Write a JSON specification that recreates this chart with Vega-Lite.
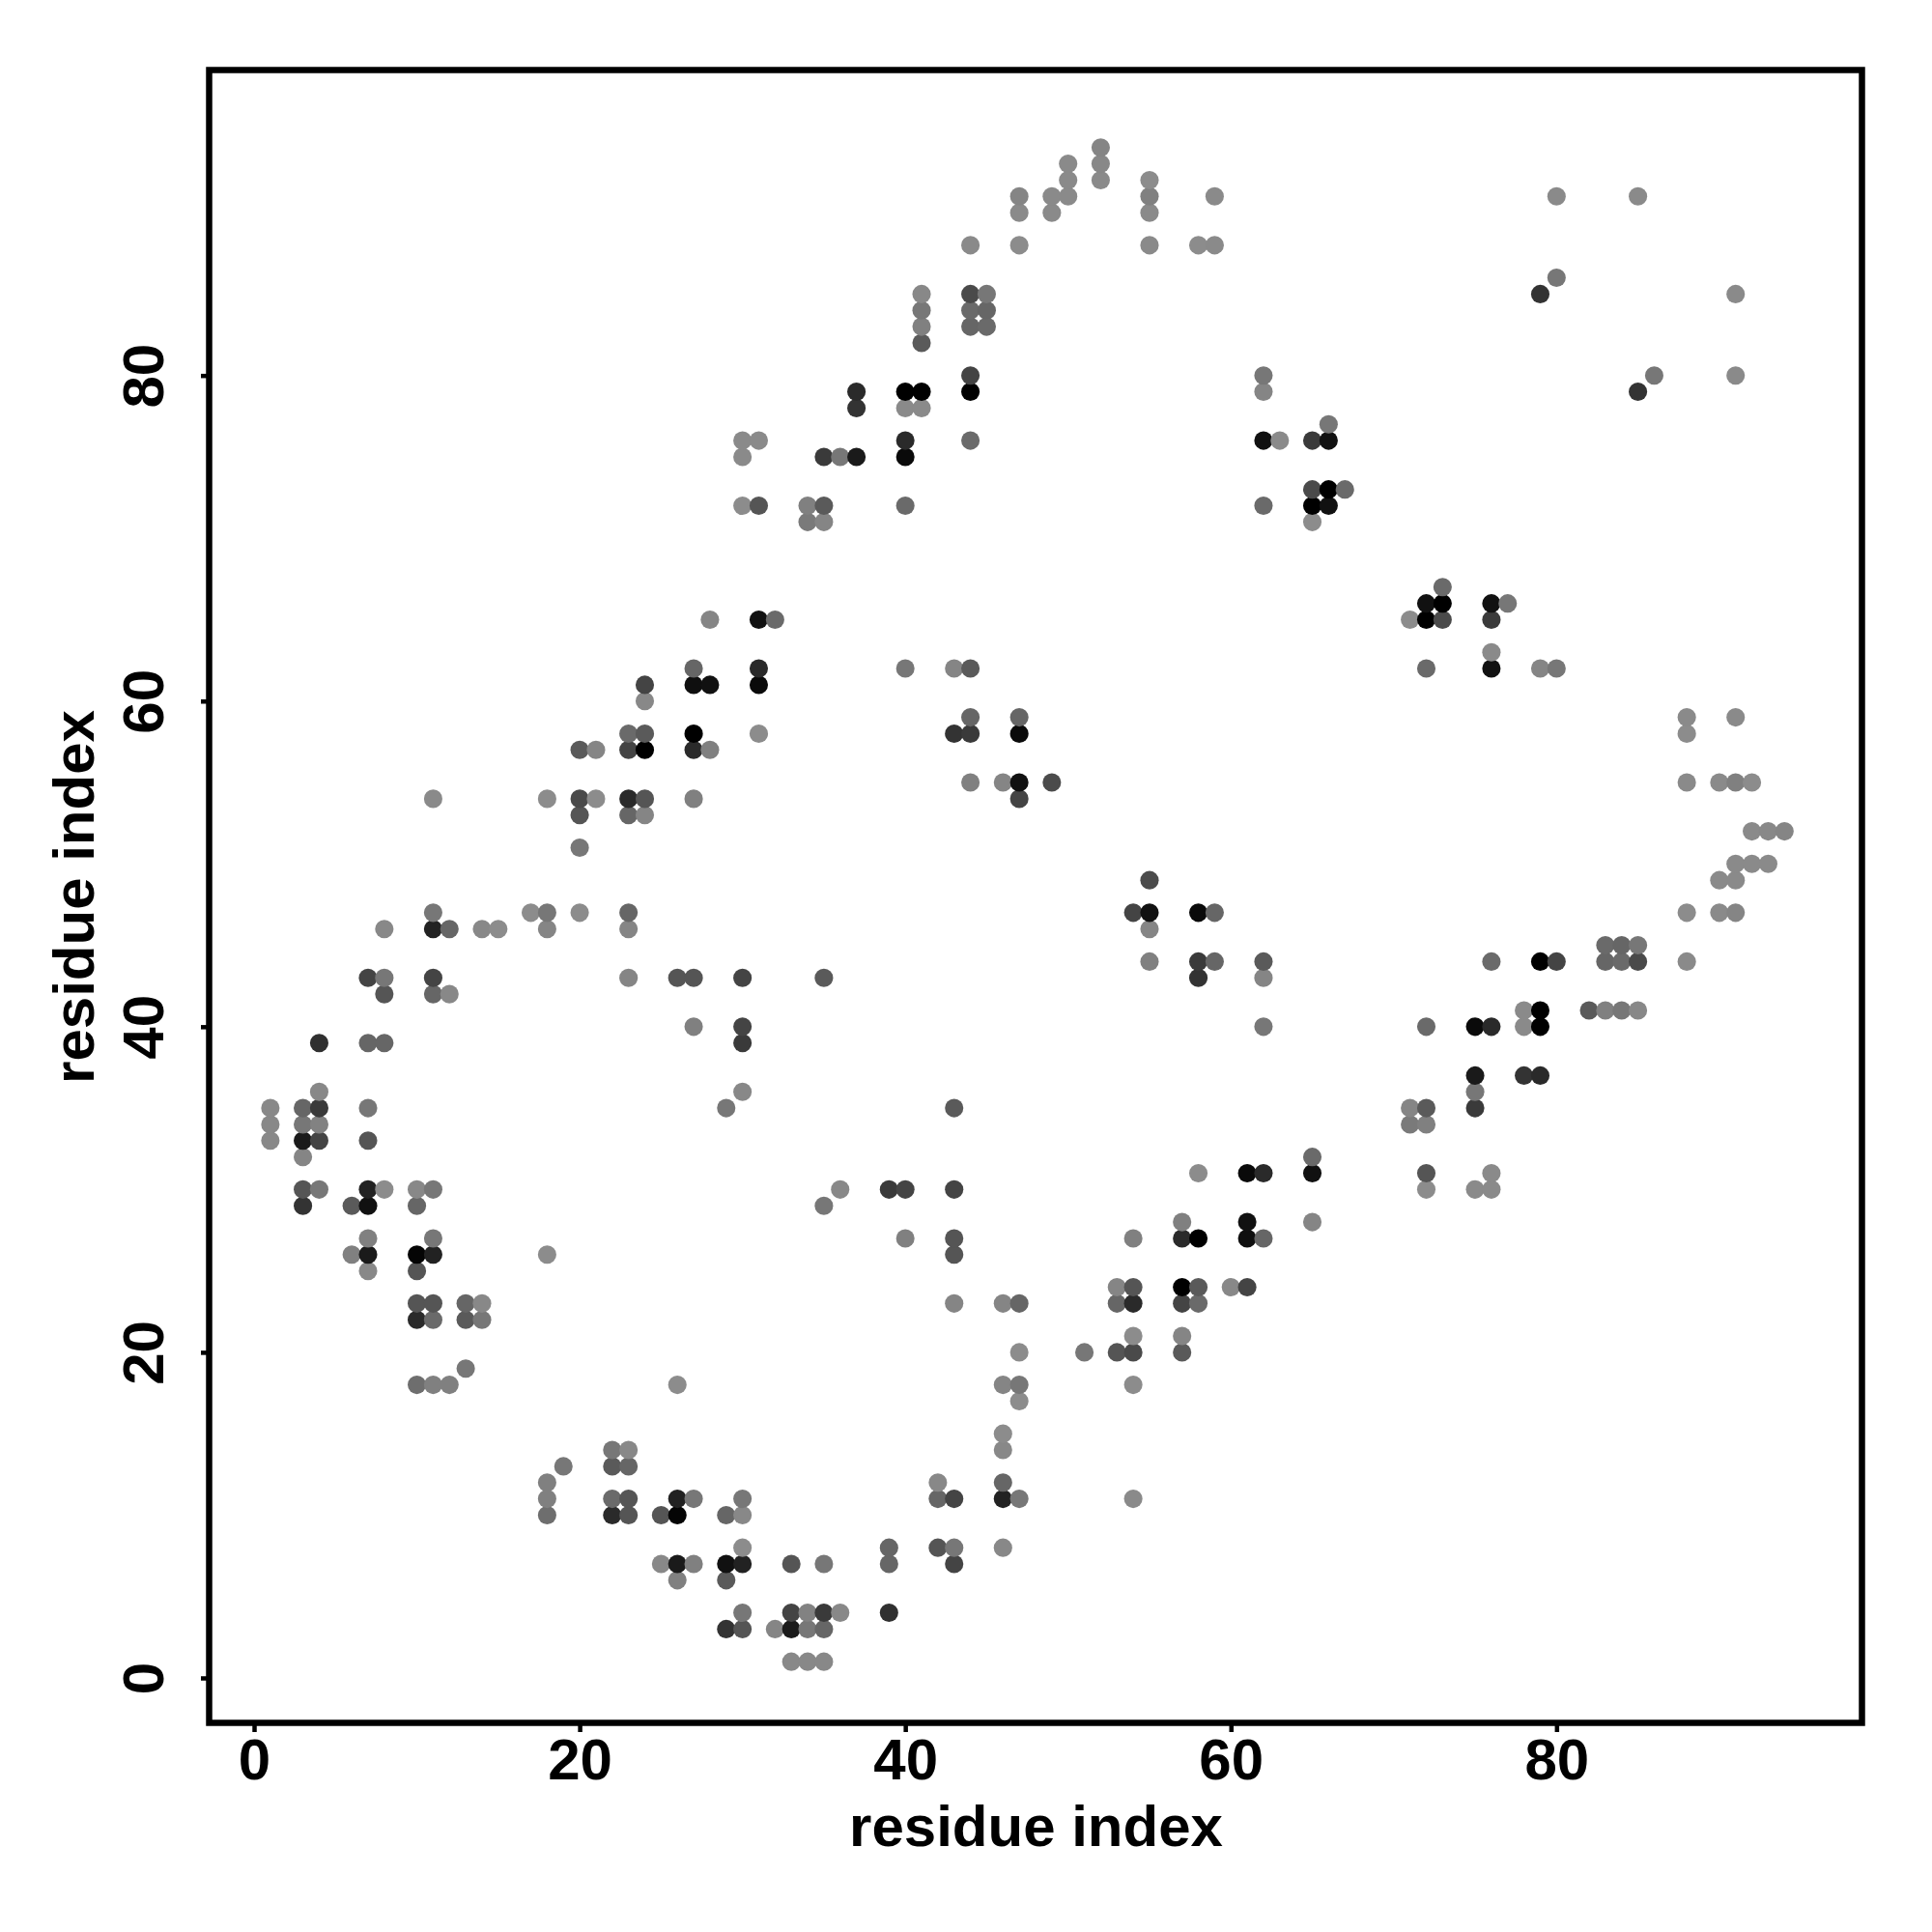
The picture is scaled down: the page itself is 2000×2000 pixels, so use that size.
{"$schema":"https://vega.github.io/schema/vega-lite/v6.json","autosize":{"type":"none"},"padding":{"left":216.5,"top":72.5,"right":72.5,"bottom":216.5},"width":1711,"height":1711,"background":"white","config":{"view":{"stroke":"#000","strokeWidth":6.5,"fill":"white"}},"view":{"stroke":"#000","strokeWidth":6.5,"fill":"white"},"data":{"values":[
{"x":1,"y":33,"g":136},{"x":1,"y":34,"g":136},{"x":1,"y":35,"g":136},
{"x":3,"y":29,"g":51},{"x":3,"y":30,"g":85},{"x":3,"y":32,"g":133},{"x":3,"y":33,"g":26},{"x":3,"y":34,"g":119},{"x":3,"y":35,"g":102},
{"x":4,"y":30,"g":119},{"x":4,"y":33,"g":68},{"x":4,"y":34,"g":130},{"x":4,"y":35,"g":58},{"x":4,"y":36,"g":136},{"x":4,"y":39,"g":48},
{"x":6,"y":26,"g":128},{"x":6,"y":29,"g":90},
{"x":7,"y":25,"g":136},{"x":7,"y":26,"g":26},{"x":7,"y":27,"g":128},{"x":7,"y":29,"g":17},{"x":7,"y":30,"g":34},{"x":7,"y":33,"g":85},{"x":7,"y":35,"g":119},{"x":7,"y":39,"g":102},{"x":7,"y":43,"g":68},
{"x":8,"y":30,"g":140},{"x":8,"y":39,"g":102},{"x":8,"y":42,"g":85},{"x":8,"y":43,"g":119},{"x":8,"y":46,"g":136},
{"x":10,"y":18,"g":110},{"x":10,"y":22,"g":42},{"x":10,"y":23,"g":85},{"x":10,"y":25,"g":85},{"x":10,"y":26,"g":5},{"x":10,"y":29,"g":102},{"x":10,"y":30,"g":136},
{"x":11,"y":18,"g":128},{"x":11,"y":22,"g":106},{"x":11,"y":23,"g":85},{"x":11,"y":26,"g":34},{"x":11,"y":27,"g":119},{"x":11,"y":30,"g":119},{"x":11,"y":42,"g":102},{"x":11,"y":43,"g":68},{"x":11,"y":46,"g":34},{"x":11,"y":47,"g":119},{"x":11,"y":54,"g":138},
{"x":12,"y":18,"g":128},{"x":12,"y":42,"g":136},{"x":12,"y":46,"g":102},
{"x":13,"y":19,"g":119},{"x":13,"y":22,"g":90},{"x":13,"y":23,"g":102},
{"x":14,"y":22,"g":119},{"x":14,"y":23,"g":136},{"x":14,"y":46,"g":136},
{"x":15,"y":46,"g":140},{"x":17,"y":47,"g":140},
{"x":18,"y":26,"g":140},{"x":18,"y":46,"g":133},{"x":18,"y":47,"g":119},{"x":18,"y":54,"g":140},
{"x":20,"y":47,"g":140},{"x":20,"y":51,"g":119},{"x":20,"y":53,"g":85},{"x":20,"y":54,"g":74},{"x":20,"y":57,"g":90},
{"x":21,"y":54,"g":140},{"x":21,"y":57,"g":133},
{"x":23,"y":43,"g":133},{"x":23,"y":46,"g":133},{"x":23,"y":47,"g":102},{"x":23,"y":53,"g":102},{"x":23,"y":54,"g":42},{"x":23,"y":57,"g":68},{"x":23,"y":58,"g":106},
{"x":24,"y":53,"g":133},{"x":24,"y":54,"g":85},{"x":24,"y":57,"g":0},{"x":24,"y":58,"g":90},{"x":24,"y":60,"g":136},{"x":24,"y":61,"g":68},
{"x":26,"y":43,"g":85},
{"x":27,"y":40,"g":128},{"x":27,"y":43,"g":85},{"x":27,"y":54,"g":128},{"x":27,"y":57,"g":42},{"x":27,"y":58,"g":0},{"x":27,"y":61,"g":15},{"x":27,"y":62,"g":102},
{"x":28,"y":57,"g":128},{"x":28,"y":61,"g":17},{"x":28,"y":65,"g":133},
{"x":29,"y":35,"g":119},
{"x":30,"y":36,"g":136},{"x":30,"y":39,"g":58},{"x":30,"y":40,"g":68},{"x":30,"y":43,"g":68},{"x":30,"y":72,"g":140},{"x":30,"y":75,"g":138},{"x":30,"y":76,"g":138},
{"x":31,"y":58,"g":140},{"x":31,"y":61,"g":10},{"x":31,"y":62,"g":42},{"x":31,"y":65,"g":17},{"x":31,"y":72,"g":85},{"x":31,"y":76,"g":138},
{"x":32,"y":65,"g":106},
{"x":34,"y":71,"g":122},{"x":34,"y":72,"g":128},
{"x":35,"y":43,"g":90},{"x":35,"y":71,"g":133},{"x":35,"y":72,"g":90},{"x":35,"y":75,"g":58},
{"x":36,"y":75,"g":119},
{"x":37,"y":75,"g":26},{"x":37,"y":78,"g":51},{"x":37,"y":79,"g":42},
{"x":40,"y":62,"g":119},{"x":40,"y":72,"g":106},{"x":40,"y":75,"g":10},{"x":40,"y":76,"g":42},{"x":40,"y":78,"g":138},{"x":40,"y":79,"g":0},
{"x":41,"y":78,"g":138},{"x":41,"y":79,"g":0},{"x":41,"y":82,"g":90},{"x":41,"y":83,"g":128},{"x":41,"y":84,"g":119},{"x":41,"y":85,"g":136},
{"x":43,"y":58,"g":51},{"x":43,"y":62,"g":133},
{"x":44,"y":55,"g":128},{"x":44,"y":58,"g":58},{"x":44,"y":59,"g":102},{"x":44,"y":62,"g":90},{"x":44,"y":76,"g":106},{"x":44,"y":79,"g":0},{"x":44,"y":80,"g":68},{"x":44,"y":83,"g":102},{"x":44,"y":84,"g":106},{"x":44,"y":85,"g":74},{"x":44,"y":88,"g":138},
{"x":45,"y":83,"g":106},{"x":45,"y":84,"g":102},{"x":45,"y":85,"g":119},
{"x":46,"y":55,"g":133},
{"x":47,"y":54,"g":68},{"x":47,"y":55,"g":17},{"x":47,"y":58,"g":10},{"x":47,"y":59,"g":102},{"x":47,"y":88,"g":140},{"x":47,"y":90,"g":138},{"x":47,"y":91,"g":133},
{"x":49,"y":55,"g":75},{"x":49,"y":90,"g":138},{"x":49,"y":91,"g":138},
{"x":50,"y":91,"g":138},{"x":50,"y":92,"g":138},{"x":50,"y":93,"g":138},
{"x":52,"y":92,"g":138},{"x":52,"y":93,"g":136},{"x":52,"y":94,"g":133},
{"x":55,"y":88,"g":138},{"x":55,"y":90,"g":138},{"x":55,"y":91,"g":128},{"x":55,"y":92,"g":140},
{"x":58,"y":88,"g":140},{"x":59,"y":88,"g":138},{"x":59,"y":91,"g":138},
{"x":62,"y":72,"g":106},{"x":62,"y":76,"g":17},{"x":62,"y":79,"g":133},{"x":62,"y":80,"g":119},
{"x":63,"y":76,"g":138},
{"x":65,"y":71,"g":140},{"x":65,"y":72,"g":0},{"x":65,"y":73,"g":74},{"x":65,"y":76,"g":58},
{"x":66,"y":72,"g":17},{"x":66,"y":73,"g":0},{"x":66,"y":76,"g":17},{"x":66,"y":77,"g":119},
{"x":67,"y":73,"g":106},
{"x":79,"y":85,"g":51},{"x":80,"y":86,"g":119},{"x":80,"y":91,"g":138},{"x":85,"y":91,"g":138},
{"x":33,"y":1,"g":136},{"x":34,"y":1,"g":136},{"x":35,"y":1,"g":136},
{"x":29,"y":3,"g":51},{"x":30,"y":3,"g":85},{"x":32,"y":3,"g":133},{"x":33,"y":3,"g":26},{"x":34,"y":3,"g":119},{"x":35,"y":3,"g":102},
{"x":30,"y":4,"g":119},{"x":33,"y":4,"g":68},{"x":34,"y":4,"g":130},{"x":35,"y":4,"g":58},{"x":36,"y":4,"g":136},{"x":39,"y":4,"g":48},
{"x":26,"y":6,"g":128},{"x":29,"y":6,"g":90},
{"x":25,"y":7,"g":136},{"x":26,"y":7,"g":26},{"x":27,"y":7,"g":128},{"x":29,"y":7,"g":17},{"x":30,"y":7,"g":34},{"x":33,"y":7,"g":85},{"x":35,"y":7,"g":119},{"x":39,"y":7,"g":102},{"x":43,"y":7,"g":68},
{"x":30,"y":8,"g":140},{"x":39,"y":8,"g":102},{"x":42,"y":8,"g":85},{"x":43,"y":8,"g":119},{"x":46,"y":8,"g":136},
{"x":18,"y":10,"g":110},{"x":22,"y":10,"g":42},{"x":23,"y":10,"g":85},{"x":25,"y":10,"g":85},{"x":26,"y":10,"g":5},{"x":29,"y":10,"g":102},{"x":30,"y":10,"g":136},
{"x":18,"y":11,"g":128},{"x":22,"y":11,"g":106},{"x":23,"y":11,"g":85},{"x":26,"y":11,"g":34},{"x":27,"y":11,"g":119},{"x":30,"y":11,"g":119},{"x":42,"y":11,"g":102},{"x":43,"y":11,"g":68},{"x":46,"y":11,"g":34},{"x":47,"y":11,"g":119},{"x":54,"y":11,"g":138},
{"x":18,"y":12,"g":128},{"x":42,"y":12,"g":136},{"x":46,"y":12,"g":102},
{"x":19,"y":13,"g":119},{"x":22,"y":13,"g":90},{"x":23,"y":13,"g":102},
{"x":22,"y":14,"g":119},{"x":23,"y":14,"g":136},{"x":46,"y":14,"g":136},
{"x":46,"y":15,"g":140},{"x":47,"y":17,"g":140},
{"x":26,"y":18,"g":140},{"x":46,"y":18,"g":133},{"x":47,"y":18,"g":119},{"x":54,"y":18,"g":140},
{"x":47,"y":20,"g":140},{"x":51,"y":20,"g":119},{"x":53,"y":20,"g":85},{"x":54,"y":20,"g":74},{"x":57,"y":20,"g":90},
{"x":54,"y":21,"g":140},{"x":57,"y":21,"g":133},
{"x":43,"y":23,"g":133},{"x":46,"y":23,"g":133},{"x":47,"y":23,"g":102},{"x":53,"y":23,"g":102},{"x":54,"y":23,"g":42},{"x":57,"y":23,"g":68},{"x":58,"y":23,"g":106},
{"x":53,"y":24,"g":133},{"x":54,"y":24,"g":85},{"x":57,"y":24,"g":0},{"x":58,"y":24,"g":90},{"x":60,"y":24,"g":136},{"x":61,"y":24,"g":68},
{"x":43,"y":26,"g":85},
{"x":40,"y":27,"g":128},{"x":43,"y":27,"g":85},{"x":54,"y":27,"g":128},{"x":57,"y":27,"g":42},{"x":58,"y":27,"g":0},{"x":61,"y":27,"g":15},{"x":62,"y":27,"g":102},
{"x":57,"y":28,"g":128},{"x":61,"y":28,"g":17},{"x":65,"y":28,"g":133},
{"x":35,"y":29,"g":119},
{"x":36,"y":30,"g":136},{"x":39,"y":30,"g":58},{"x":40,"y":30,"g":68},{"x":43,"y":30,"g":68},{"x":72,"y":30,"g":140},{"x":75,"y":30,"g":138},{"x":76,"y":30,"g":138},
{"x":58,"y":31,"g":140},{"x":61,"y":31,"g":10},{"x":62,"y":31,"g":42},{"x":65,"y":31,"g":17},{"x":72,"y":31,"g":85},{"x":76,"y":31,"g":138},
{"x":65,"y":32,"g":106},
{"x":71,"y":34,"g":122},{"x":72,"y":34,"g":128},
{"x":43,"y":35,"g":90},{"x":71,"y":35,"g":133},{"x":72,"y":35,"g":90},{"x":75,"y":35,"g":58},
{"x":75,"y":36,"g":119},
{"x":75,"y":37,"g":26},{"x":78,"y":37,"g":51},{"x":79,"y":37,"g":42},
{"x":62,"y":40,"g":119},{"x":72,"y":40,"g":106},{"x":75,"y":40,"g":10},{"x":76,"y":40,"g":42},{"x":78,"y":40,"g":138},{"x":79,"y":40,"g":0},
{"x":78,"y":41,"g":138},{"x":79,"y":41,"g":0},{"x":82,"y":41,"g":90},{"x":83,"y":41,"g":128},{"x":84,"y":41,"g":119},{"x":85,"y":41,"g":136},
{"x":58,"y":43,"g":51},{"x":62,"y":43,"g":133},
{"x":55,"y":44,"g":128},{"x":58,"y":44,"g":58},{"x":59,"y":44,"g":102},{"x":62,"y":44,"g":90},{"x":76,"y":44,"g":106},{"x":79,"y":44,"g":0},{"x":80,"y":44,"g":68},{"x":83,"y":44,"g":102},{"x":84,"y":44,"g":106},{"x":85,"y":44,"g":74},{"x":88,"y":44,"g":138},
{"x":83,"y":45,"g":106},{"x":84,"y":45,"g":102},{"x":85,"y":45,"g":119},
{"x":55,"y":46,"g":133},
{"x":54,"y":47,"g":68},{"x":55,"y":47,"g":17},{"x":58,"y":47,"g":10},{"x":59,"y":47,"g":102},{"x":88,"y":47,"g":140},{"x":90,"y":47,"g":138},{"x":91,"y":47,"g":133},
{"x":55,"y":49,"g":75},{"x":90,"y":49,"g":138},{"x":91,"y":49,"g":138},
{"x":91,"y":50,"g":138},{"x":92,"y":50,"g":138},{"x":93,"y":50,"g":138},
{"x":92,"y":52,"g":138},{"x":93,"y":52,"g":136},{"x":94,"y":52,"g":133},
{"x":88,"y":55,"g":138},{"x":90,"y":55,"g":138},{"x":91,"y":55,"g":128},{"x":92,"y":55,"g":140},
{"x":88,"y":58,"g":140},{"x":88,"y":59,"g":138},{"x":91,"y":59,"g":138},
{"x":72,"y":62,"g":106},{"x":76,"y":62,"g":17},{"x":79,"y":62,"g":133},{"x":80,"y":62,"g":119},
{"x":76,"y":63,"g":138},
{"x":71,"y":65,"g":140},{"x":72,"y":65,"g":0},{"x":73,"y":65,"g":74},{"x":76,"y":65,"g":58},
{"x":72,"y":66,"g":17},{"x":73,"y":66,"g":0},{"x":76,"y":66,"g":17},{"x":77,"y":66,"g":119},
{"x":73,"y":67,"g":106},
{"x":85,"y":79,"g":51},{"x":86,"y":80,"g":119},{"x":91,"y":80,"g":138},{"x":91,"y":85,"g":138}
]},"mark":{"type":"circle","opacity":1,"size":365},"encoding":{"x":{"field":"x","type":"quantitative","scale":{"domain":[-2.76,98.76],"nice":false,"zero":false},"axis":{"title":"residue index","values":[0,20,40,60,80],"grid":false,"domain":false,"ticks":true,"tickSize":9,"tickWidth":4.5,"tickColor":"#000","tickRound":false,"labelFont":"Liberation Sans","labelFontWeight":"bold","labelFontSize":60,"labelColor":"#000","labelPadding":2,"labelOverlap":false,"titleFont":"Liberation Sans","titleFontWeight":"bold","titleFontSize":60,"titleColor":"#000","titlePadding":10}},"y":{"field":"y","type":"quantitative","scale":{"domain":[-2.76,98.76],"nice":false,"zero":false},"axis":{"title":"residue index","values":[0,20,40,60,80],"grid":false,"domain":false,"ticks":true,"tickSize":9,"tickWidth":4.5,"tickColor":"#000","tickRound":false,"labelFont":"Liberation Sans","labelFontWeight":"bold","labelFontSize":60,"labelColor":"#000","labelAngle":270,"labelAlign":"center","labelBaseline":"bottom","labelPadding":26,"labelOverlap":false,"titleFont":"Liberation Sans","titleFontWeight":"bold","titleFontSize":60,"titleColor":"#000","titlePadding":11}},"color":{"field":"g","type":"quantitative","scale":{"domain":[0,255],"range":["#000000","#ffffff"],"interpolate":"rgb"},"legend":null}}}
